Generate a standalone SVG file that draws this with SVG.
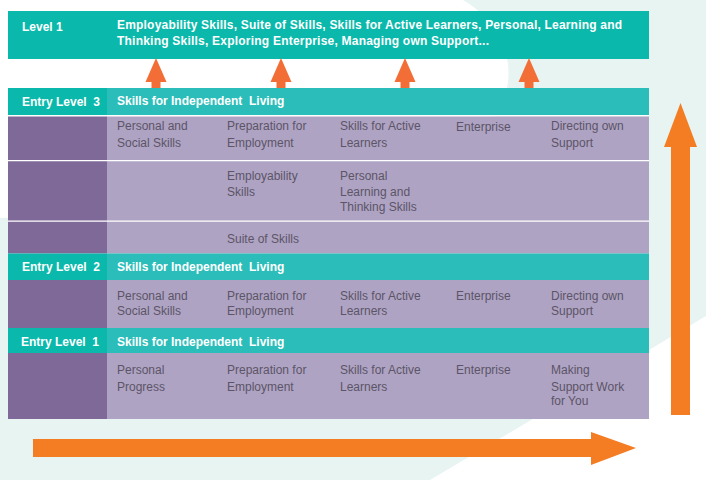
<svg xmlns="http://www.w3.org/2000/svg" width="706" height="480" viewBox="0 0 706 480">
<style>
.bg{fill:#e7f4f2}
.teal{fill:#0ab9ab}
.teal2{fill:#2bbdb9}
.dp{fill:#7f6998}
.lp{fill:#afa3c4}
.hd{font-family:"Liberation Sans",Arial,sans-serif;font-weight:bold;font-size:12px;fill:#ffffff;white-space:pre}
.tx{font-family:"Liberation Sans",Arial,sans-serif;font-size:12px;fill:#5b5566}
.sa{fill:#f36e36}
.ba{fill:#f47c22}
.sep{stroke:#ffffff;stroke-width:1.2}
</style>
<g id="background">
<rect class="bg" x="0" y="0" width="706" height="480"/>
<path d="M0,0 L463,0 C495,18 516,55 506,92 C470,200 230,212 0,218 Z" fill="#ffffff"/>
<path d="M430,480 L706,316 L706,480 Z" fill="#ffffff"/>
</g>
<g id="level1">
<rect class="teal" x="8" y="11" width="641" height="48"/>
<text class="hd" x="22" y="31">Level 1</text>
<text class="hd" x="117" y="29" textLength="505" lengthAdjust="spacing">Employability Skills, Suite of Skills, Skills for Active Learners, Personal, Learning and</text>
<text class="hd" x="117" y="45" textLength="372" lengthAdjust="spacing">Thinking Skills, Exploring Enterprise, Managing own Support...</text>
</g>
<g id="connectors">
<path class="sa" d="M156,58 L166.5,82 L160.5,82 L160.5,89 L151.5,89 L151.5,82 L145.5,82 Z"/>
<path class="sa" d="M281,58 L291.5,82 L285.5,82 L285.5,89 L276.5,89 L276.5,82 L270.5,82 Z"/>
<path class="sa" d="M405,58 L415.5,82 L409.5,82 L409.5,89 L400.5,89 L400.5,82 L394.5,82 Z"/>
<path class="sa" d="M529,58 L539.5,82 L533.5,82 L533.5,89 L524.5,89 L524.5,82 L518.5,82 Z"/>
<path class="ba" d="M680.5,103 L697,147 L690,147 L690,415 L671,415 L671,147 L664,147 Z"/>
<path class="ba" d="M636,448 L591,465 L591,457 L33,457 L33,439 L591,439 L591,432 Z"/>
</g>
<g id="entry-level-3">
<rect class="teal" x="8" y="88" width="99" height="27"/>
<rect class="teal2" x="107" y="88" width="542" height="27"/>
<text class="hd" x="22" y="106">Entry Level  3</text>
<text class="hd" x="117" y="105">Skills for Independent  Living</text>
<rect x="8" y="115" width="641" height="1.5" fill="#ffffff"/>
<rect class="dp" x="8" y="116.5" width="99" height="137"/>
<rect class="lp" x="107" y="116.5" width="542" height="137"/>
<line class="sep" x1="8" y1="160.6" x2="649" y2="160.6"/>
<line class="sep" x1="8" y1="221.2" x2="649" y2="221.2"/>
<text class="tx" x="117" y="130">Personal and</text>
<text class="tx" x="117" y="147">Social Skills</text>
<text class="tx" x="227" y="130">Preparation for</text>
<text class="tx" x="227" y="147">Employment</text>
<text class="tx" x="340" y="130">Skills for Active</text>
<text class="tx" x="340" y="147">Learners</text>
<text class="tx" x="456" y="131">Enterprise</text>
<text class="tx" x="551" y="130">Directing own</text>
<text class="tx" x="551" y="147">Support</text>
<text class="tx" x="227" y="180">Employability</text>
<text class="tx" x="227" y="195.5">Skills</text>
<text class="tx" x="340" y="180">Personal</text>
<text class="tx" x="340" y="195.5">Learning and</text>
<text class="tx" x="340" y="210.5">Thinking Skills</text>
<text class="tx" x="227" y="243">Suite of Skills</text>
</g>
<g id="entry-level-2">
<rect class="teal" x="8" y="253.5" width="99" height="26.5"/>
<rect class="teal2" x="107" y="253.5" width="542" height="26.5"/>
<text class="hd" x="22" y="271">Entry Level  2</text>
<text class="hd" x="117" y="271">Skills for Independent  Living</text>
<rect class="dp" x="8" y="280" width="99" height="48"/>
<rect class="lp" x="107" y="280" width="542" height="48"/>
<text class="tx" x="117" y="300">Personal and</text>
<text class="tx" x="117" y="315">Social Skills</text>
<text class="tx" x="227" y="300">Preparation for</text>
<text class="tx" x="227" y="315">Employment</text>
<text class="tx" x="340" y="300">Skills for Active</text>
<text class="tx" x="340" y="315">Learners</text>
<text class="tx" x="456" y="300">Enterprise</text>
<text class="tx" x="551" y="300">Directing own</text>
<text class="tx" x="551" y="315">Support</text>
</g>
<g id="entry-level-1">
<rect class="teal" x="8" y="328" width="99" height="25"/>
<rect class="teal2" x="107" y="328" width="542" height="25"/>
<text class="hd" x="21" y="346">Entry Level  1</text>
<text class="hd" x="117" y="346">Skills for Independent  Living</text>
<rect class="dp" x="8" y="353" width="99" height="66"/>
<rect class="lp" x="107" y="353" width="542" height="66"/>
<text class="tx" x="117" y="374">Personal</text>
<text class="tx" x="117" y="391">Progress</text>
<text class="tx" x="227" y="374">Preparation for</text>
<text class="tx" x="227" y="391">Employment</text>
<text class="tx" x="340" y="374">Skills for Active</text>
<text class="tx" x="340" y="391">Learners</text>
<text class="tx" x="456" y="374">Enterprise</text>
<text class="tx" x="551" y="374">Making</text>
<text class="tx" x="551" y="391">Support Work</text>
<text class="tx" x="551" y="405">for You</text>
</g>
</svg>
